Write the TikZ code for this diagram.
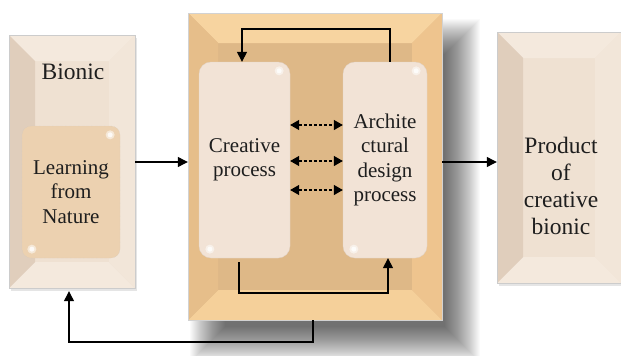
\documentclass[tikz,border=0pt]{standalone}
\usepackage{fontspec}
\setmainfont{Liberation Serif}
\usetikzlibrary{calc,arrows.meta}
\definecolor{txt}{HTML}{1E1E1E}
\definecolor{beigeC}{HTML}{EFE1D2}
\definecolor{beigeT}{HTML}{F4E9DD}
\definecolor{beigeL}{HTML}{E0CEBC}
\definecolor{beigeR}{HTML}{F2E6D9}
\definecolor{tanC}{HTML}{DEB887}
\definecolor{tanT}{HTML}{F7D4A0}
\definecolor{tanB}{HTML}{F5D09A}
\definecolor{tanL}{HTML}{E6BE8A}
\definecolor{tanR}{HTML}{EEC48E}
\definecolor{procfill}{HTML}{F2E3D6}
\definecolor{learnfill}{HTML}{ECD1B0}
\newcommand\bevelpic[5]{%
  \fill[#2] (path picture bounding box.north west) -- (path picture bounding box.north east)
    -- ($(path picture bounding box.north east)+(-#1,#1)$) -- ($(path picture bounding box.north west)+(#1,#1)$) -- cycle;
  \fill[#3] (path picture bounding box.south west) -- (path picture bounding box.south east)
    -- ($(path picture bounding box.south east)+(-#1,-#1)$) -- ($(path picture bounding box.south west)+(#1,-#1)$) -- cycle;
  \fill[#4] (path picture bounding box.north west) -- ($(path picture bounding box.north west)+(#1,#1)$)
    -- ($(path picture bounding box.south west)+(#1,-#1)$) -- (path picture bounding box.south west) -- cycle;
  \fill[#5] (path picture bounding box.north east) -- ($(path picture bounding box.north east)+(-#1,#1)$)
    -- ($(path picture bounding box.south east)+(-#1,-#1)$) -- (path picture bounding box.south east) -- cycle;
}
\tikzset{
  txtstyle/.style={text=txt, font=\fontsize{21}{24.5}\selectfont, align=center},
  bigtxt/.style={text=txt, font=\fontsize{23.5}{27}\selectfont, align=center},
  beigebox/.style={rectangle, draw=gray!40, line width=0.4pt, fill=beigeC, inner sep=0pt,
    path picture={\bevelpic{26}{beigeT}{beigeT}{beigeL}{beigeR}}},
  tanbox/.style={rectangle, draw=gray!35, line width=0.4pt, fill=tanC, inner sep=0pt,
    path picture={\bevelpic{30}{tanT}{tanB}{tanL}{tanR}}},
  procbox/.style={rectangle, rounded corners=12pt, fill=procfill, draw=procfill!85!gray, line width=0.3pt,
    inner sep=0pt, txtstyle},
  learnbox/.style={rectangle, rounded corners=9pt, fill=learnfill, draw=gray!45, densely dotted, line width=0.3pt,
    inner sep=0pt, txtstyle},
  arr/.style={draw=black, line width=1.2pt, -{Triangle[length=10pt,width=10pt]}},
  darr/.style={draw=black, line width=1.2pt, dash pattern=on 3pt off 2pt,
    {Triangle[length=9pt,width=10pt]}-{Triangle[length=9pt,width=10pt]}},
}
\begin{document}
\begin{tikzpicture}[x=1pt,y=-1pt]
\useasboundingbox (0,0) rectangle (621,356);
\fill[white] (0,0) rectangle (621,356);
% shadow of middle box
\foreach \k in {0,...,35}{
  \fill[black,opacity=0.018] (188+20-18+\k,13+24-18+\k) rectangle (442+20+18-\k,320+24+18-\k);
}
% small shadows of side boxes
\fill[black,opacity=0.10] (11,38) rectangle (137,291);
\fill[black,opacity=0.10] (499,35) rectangle (621,286);

\node[beigebox, minimum width=126pt, minimum height=253pt] (bionic) at (72,161.5) {};
\node[bigtxt] (bionictxt) at (73,72) {Bionic};
\node[learnbox, minimum width=98pt, minimum height=132pt] (learn) at (71,192) {Learning\\from\\Nature};

\node[tanbox, minimum width=254pt, minimum height=307pt] (mid) at (315,166.5) {};
\node[procbox, minimum width=91pt, minimum height=196pt] (creat) at (244.5,160) {Creative\\process};
\node[procbox, minimum width=84pt, minimum height=196pt] (arch) at (385,160) {Archite\\ctural\\design\\process};

\node[beigebox, minimum width=124pt, minimum height=251pt] (prod) at (559,157.5) {};
\node[bigtxt] (prodtxt) at (561,186) {Product\\of\\creative\\bionic};

% highlights
\foreach \n in {creat,arch}{
  \fill[white,opacity=0.5] ($(\n.north east)+(-11,9)$) circle (4.5pt);
  \fill[white,opacity=0.8] ($(\n.north east)+(-11,9)$) circle (2.5pt);
  \fill[white,opacity=0.5] ($(\n.south west)+(11,-9)$) circle (4.5pt);
  \fill[white,opacity=0.8] ($(\n.south west)+(11,-9)$) circle (2.5pt);
}
\fill[white,opacity=0.5] ($(learn.north east)+(-10,9)$) circle (4.5pt);
\fill[white,opacity=0.8] ($(learn.north east)+(-10,9)$) circle (2.5pt);
\fill[white,opacity=0.5] ($(learn.south west)+(10,-9)$) circle (4.5pt);
\fill[white,opacity=0.8] ($(learn.south west)+(10,-9)$) circle (2.5pt);

\coordinate (toploop) at (0,29);
\coordinate (botloop) at (0,293);
\coordinate (fbloop) at (0,342);

% connectors
\draw[arr] (bionic.east |- 0,162) -- (mid.west |- 0,162);
\draw[arr] (mid.east |- 0,162) -- (prod.west |- 0,162);
\draw[arr] ([xshift=5pt]arch.north) |- ([xshift=-2.5pt]creat.north |- toploop) -- ([xshift=-2.5pt]creat.north);
\draw[arr] ([xshift=-5.5pt,yshift=-4pt]creat.south) |- ([xshift=3pt]arch.south |- botloop) -- ([xshift=3pt]arch.south);
\draw[arr] ([xshift=-2pt]mid.south) |- ([xshift=-3pt]bionic.south |- fbloop) -- ([xshift=-3pt,yshift=-3pt]bionic.south);
\draw[darr] (creat.east |- 0,125) -- (arch.west |- 0,125);
\draw[darr] (creat.east |- 0,161) -- (arch.west |- 0,161);
\draw[darr] (creat.east |- 0,190) -- (arch.west |- 0,190);
\end{tikzpicture}
\end{document}
